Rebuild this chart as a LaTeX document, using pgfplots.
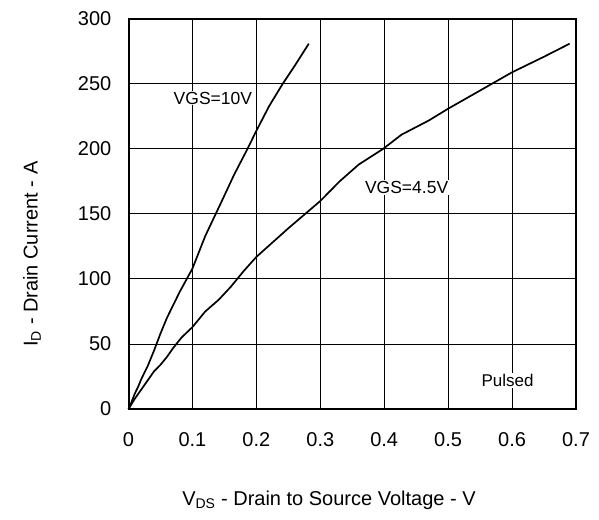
\documentclass[border=0pt]{standalone}
\usepackage{fontspec}
\setmainfont{Liberation Sans}
\usepackage{pgfplots}
\pgfplotsset{compat=1.18}
\begin{document}
\begin{tikzpicture}
\useasboundingbox (0,0) rectangle (599pt,519pt);
\begin{axis}[
  at={(128.5pt,110pt)}, anchor=south west,
  scale only axis, width=447.5pt, height=390pt,
  xmin=0, xmax=0.7, ymin=0, ymax=300,
  xtick={0,0.1,...,0.7}, ytick={0,50,...,300},
  xticklabels={0,0.1,0.2,0.3,0.4,0.5,0.6,0.7},
  grid=major, major grid style={black, line width=1pt},
  major tick length=0pt,
  axis line style={line width=2pt},
  /pgf/number format/assume math mode=true,
  tick label style={font=\fontsize{20}{24}\selectfont, inner sep=0pt},
  yticklabel style={xshift=-17pt},
  xticklabel style={yshift=-23pt},
  xlabel={V\textsubscript{DS} - Drain to Source Voltage - V},
  ylabel={I\textsubscript{D} - Drain Current - A},
  every axis x label/.style={at={(axis description cs:0.448,-0.233)}, anchor=center, font=\fontsize{20}{24}\selectfont},
  every axis y label/.style={at={(axis description cs:-0.2157,0.397)}, anchor=center, rotate=90, font=\fontsize{20}{24}\selectfont},
  clip=false,
]
\addplot[black, line width=1.7pt] coordinates {
(0,0) (0.003,3) (0.006,7) (0.01,12) (0.015,17) (0.02,23) (0.03,33) (0.04,45) (0.05,58) (0.06,70) (0.07,80) (0.08,90) (0.09,99) (0.1,108) (0.12,133) (0.146,160) (0.165,180) (0.186,200) (0.2,214) (0.22,233) (0.241,250) (0.26,264) (0.282,281)
};
\addplot[black, line width=1.7pt] coordinates {
(0,0) (0.005,4) (0.01,8) (0.02,15) (0.03,22) (0.04,29) (0.05,34) (0.06,40) (0.07,47) (0.083,55) (0.1,63) (0.12,75) (0.141,84) (0.16,94) (0.18,106) (0.2,117) (0.25,139) (0.3,160) (0.33,175) (0.36,188) (0.398,200) (0.427,211) (0.47,222) (0.5,231) (0.55,245) (0.6,259) (0.65,271) (0.69,281)
};
\node[fill=white, inner sep=1pt, font=\fontsize{17.5}{21}\selectfont] at (axis cs:0.132,239) {VGS=10V};
\node[fill=white, inner sep=1pt, font=\fontsize{17.5}{21}\selectfont] at (axis cs:0.435,170.5) {VGS=4.5V};
\node[fill=white, inner sep=1pt, font=\fontsize{17}{21}\selectfont] at (axis cs:0.593,22) {Pulsed};
\end{axis}
\end{tikzpicture}
\end{document}
